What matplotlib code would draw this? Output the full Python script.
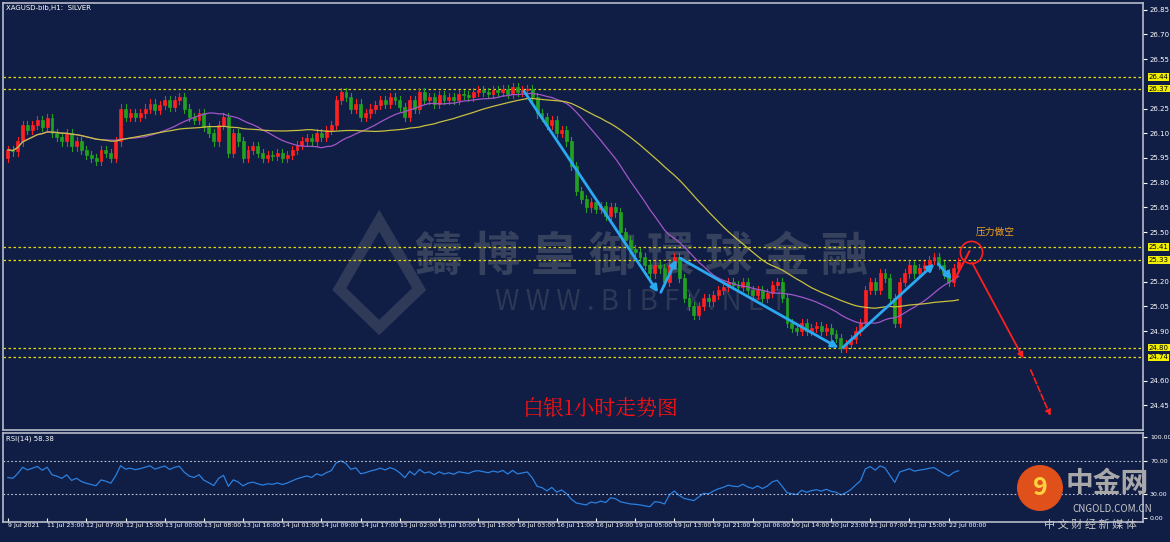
import matplotlib
matplotlib.use("Agg")
import matplotlib.pyplot as plt
import numpy as np
import pandas as pd
from matplotlib.patches import Rectangle, Ellipse, Polygon

plt.rcParams['font.family'] = ['Noto Sans CJK SC', 'DejaVu Sans']

closes = [26.00, 25.99, 26.05, 26.15, 26.12, 26.15, 26.18, 26.14, 26.19, 26.10, 26.08, 26.05, 26.10, 26.02,
          26.05, 26.00, 25.97, 25.95, 25.93, 26.00, 25.98, 25.95, 26.05, 26.25, 26.20, 26.22, 26.20,
          26.22, 26.25, 26.28, 26.24, 26.27, 26.30, 26.26, 26.30, 26.32, 26.25, 26.20, 26.18, 26.22, 26.14,
          26.10, 26.05, 26.15, 26.20, 25.98, 26.10, 26.05, 25.95, 26.00, 26.02,
          25.98, 25.95, 25.97, 25.96, 25.98, 25.95, 25.97, 26.00,
          26.03, 26.05, 26.07, 26.05, 26.10, 26.08, 26.12, 26.15, 26.30, 26.35, 26.32,
          26.25, 26.28, 26.20, 26.22, 26.25, 26.27, 26.30, 26.28, 26.32, 26.30, 26.26,
          26.20, 26.30, 26.25, 26.35, 26.30, 26.32, 26.28, 26.33,
          26.30, 26.32, 26.30, 26.34, 26.33, 26.32, 26.35, 26.36, 26.35, 26.34, 26.36, 26.35, 26.37, 26.34,
          26.38, 26.35, 26.36, 26.37, 26.32,
          26.22, 26.20, 26.15, 26.18, 26.10, 26.12, 26.05,
          25.90, 25.75, 25.70, 25.65,
          25.68, 25.64, 25.66, 25.60, 25.65, 25.62,
          25.50, 25.45, 25.40, 25.38, 25.35, 25.30,
          25.25, 25.30, 25.28, 25.20, 25.30, 25.35, 25.22, 25.10,
          25.05, 25.00, 25.05, 25.10, 25.08, 25.12, 25.15, 25.17,
          25.20, 25.18, 25.17, 25.20, 25.15, 25.12, 25.15, 25.10, 25.13, 25.18,
          25.20, 25.10, 24.95, 24.92, 24.90, 24.95,
          24.90, 24.92, 24.93, 24.90, 24.92, 24.88, 24.86, 24.80, 24.82,
          24.85, 24.90, 24.95, 25.15, 25.20, 25.15,
          25.25, 25.22, 25.10, 24.95, 25.20,
          25.25, 25.30, 25.25, 25.28, 25.30, 25.33, 25.35, 25.30, 25.25, 25.20, 25.28, 25.32]
first_open = 25.95
level_lines = [26.44, 26.37, 25.41, 25.33, 24.80, 24.74]
price_ticks = [26.85, 26.70, 26.55, 26.25, 26.10, 25.95, 25.80, 25.65, 25.50, 25.20, 25.05, 24.90, 24.60, 24.45]
date_labels = ['9 Jul 2021', '11 Jul 23:00', '12 Jul 07:00', '12 Jul 15:00', '13 Jul 00:00', '13 Jul 08:00',
               '13 Jul 16:00', '14 Jul 01:00', '14 Jul 09:00', '14 Jul 17:00', '15 Jul 02:00', '15 Jul 10:00',
               '15 Jul 18:00', '16 Jul 03:00', '16 Jul 11:00', '16 Jul 19:00', '19 Jul 05:00', '19 Jul 13:00',
               '19 Jul 21:00', '20 Jul 06:00', '20 Jul 14:00', '20 Jul 23:00', '21 Jul 07:00', '21 Jul 15:00',
               '22 Jul 00:00']

BG = '#101d45'
n = len(closes)
c = np.array(closes)
o = np.concatenate([[first_open], c[:-1]])
hi = np.maximum(o, c) + 0.025
lo = np.minimum(o, c) - 0.025
s = pd.Series(c)
ma_fast = s.rolling(20, min_periods=1).mean()
ma_slow = s.rolling(40, min_periods=1).mean()
d = s.diff().fillna(0)
g = pd.concat([pd.Series([0.02]), d.clip(lower=0)], ignore_index=True)
l = pd.concat([pd.Series([0.02]), (-d.clip(upper=0))], ignore_index=True)
up = g.ewm(alpha=1/14, adjust=False).mean()[1:].reset_index(drop=True)
dn = l.ewm(alpha=1/14, adjust=False).mean()[1:].reset_index(drop=True)
rsi = 100 - 100 / (1 + up / dn.replace(0, 1e-9))

fig = plt.figure(figsize=(11.7, 5.42), dpi=100, facecolor=BG)
ax = fig.add_axes([3/1170, 1-430/542, 1140/1170, 427/542], facecolor=BG)
ax2 = fig.add_axes([3/1170, 1-522/542, 1140/1170, 89/542], facecolor=BG, sharex=ax)

step = 4.9
xmax = 1140/step - 1
ax.set_xlim(-1, xmax)
ax.set_ylim(24.30, 26.89)

for i in range(n):
    col = '#ff2020' if c[i] >= o[i] else '#22a022'
    ax.plot([i, i], [lo[i], hi[i]], color=col, lw=0.8, zorder=3)
    ax.add_patch(Rectangle((i-0.3, min(o[i], c[i])), 0.6, max(abs(c[i]-o[i]), 0.004),
                           facecolor=col, edgecolor=col, lw=0.5, zorder=4))
ax.plot(range(n), ma_fast, color='#a257c8', lw=0.9, zorder=5)
ax.plot(range(n), ma_slow, color='#c8c040', lw=0.9, zorder=5)

for lv in level_lines:
    ax.axhline(lv, color='#e8e000', ls=(0, (2, 2)), lw=0.9, zorder=2)

ax.yaxis.tick_right()
ax.set_yticks(price_ticks)
ax.set_yticklabels([f'{t:.2f}' for t in price_ticks], fontsize=5, color='white', family='DejaVu Sans')
for lv in level_lines:
    ax.text(xmax + 1.2, lv, f'{lv:.2f}', fontsize=5, color='black', va='center', ha='left',
            bbox=dict(boxstyle='square,pad=0.1', fc='#f0f000', ec='none'), clip_on=False, family='DejaVu Sans')
ax.tick_params(axis='y', colors='white', length=3, pad=2)
ax.tick_params(axis='x', bottom=False, labelbottom=False)
for sp in ax.spines.values():
    sp.set_color('#b8bcc8')
    sp.set_linewidth(1.2)

ax.text(0.003, 0.995, 'XAGUSD-bib,H1:  SILVER', transform=ax.transAxes, fontsize=5, color='white',
        va='top', family='DejaVu Sans')

# watermark
ax.text(0.56, 0.405, '鑄 博 皇 御 環 球 金 融', transform=ax.transAxes, fontsize=34, color='#36415e',
        ha='center', va='center', fontweight='bold', zorder=1)
ax.text(0.56, 0.30, 'W W W . B I B F X . N E T', transform=ax.transAxes, fontsize=20, color='#2c3856',
        ha='center', va='center', zorder=1)
ax.add_patch(Polygon([(0.295, 0.33), (0.33, 0.49), (0.365, 0.33), (0.33, 0.24)], closed=True,
                     transform=ax.transAxes, fc='none', ec='#2e3a58', lw=8, zorder=1))

# zigzag arrows
zz = [(105, 26.37), (133, 25.12), (136.7, 25.35), (170, 24.79), (189.5, 25.32), (193, 25.20)]
for (x0, y0), (x1, y1) in zip(zz[:-1], zz[1:]):
    ax.annotate('', xy=(x1, y1), xytext=(x0, y0),
                arrowprops=dict(arrowstyle='-|>', color='#2aa8f0', lw=2, mutation_scale=10), zorder=6)
ax.annotate('', xy=(196.5, 25.40), xytext=(193, 25.20),
            arrowprops=dict(arrowstyle='-', color='#ff2020', lw=1.5), zorder=6)
ax.plot([196.5], [25.38], marker='o', ms=16, mfc='none', mec='#ff2020', mew=1.2, zorder=6)
ax.annotate('', xy=(207.5, 24.72), xytext=(196.5, 25.33),
            arrowprops=dict(arrowstyle='-|>', color='#ff2020', lw=1.3, mutation_scale=8), zorder=6)
ax.annotate('', xy=(213, 24.37), xytext=(208.5, 24.68),
            arrowprops=dict(arrowstyle='-|>', color='#ff2020', lw=1.2, ls='--', mutation_scale=8), zorder=6)
ax.text(197.5, 25.47, '压力做空', fontsize=7, color='#f0a020', ha='left', va='bottom')
ax.text(121, 24.36, '白银1小时走势图', fontsize=15, color='#ff1010', ha='center', va='bottom',
        family=['Noto Serif CJK SC', 'Noto Sans CJK SC'])

# RSI
ax2.plot(range(n), rsi, color='#2a80e0', lw=0.9)
ax2.set_ylim(-5, 105)
for lv in (70, 30):
    ax2.axhline(lv, color='#c0c4d0', ls=(0, (1.5, 2)), lw=0.8)
ax2.yaxis.tick_right()
ax2.set_yticks([100, 70, 30, 0])
ax2.set_yticklabels(['100.00', '70.00', '30.00', '0.00'], fontsize=4.5, color='white', family='DejaVu Sans')
ax2.tick_params(axis='y', colors='white', length=3, pad=2)
ax2.text(0.003, 0.97, f'RSI(14) {rsi.iloc[-1]:.2f}', transform=ax2.transAxes, fontsize=5, color='white',
         va='top', family='DejaVu Sans')
for sp in ax2.spines.values():
    sp.set_color('#b8bcc8')
    sp.set_linewidth(1.2)
xt = [8 * k for k in range(len(date_labels))]
ax2.set_xticks(xt)
ax2.set_xticklabels(date_labels, fontsize=4.5, color='white', ha='left', family='DejaVu Sans')
ax2.tick_params(axis='x', colors='white', length=3, pad=1, direction='in')

# logo
fig.patches.append(Ellipse((1040/1170, 1-488/542), 46/1170, 46/542, transform=fig.transFigure,
                           fc='#e0501a', zorder=5))
fig.text(1040/1170, 1-488/542, '9', fontsize=18, color='#ffd040', ha='center', va='center',
         fontweight='bold', zorder=6)
fig.text(1107/1170, 1-484/542, '中金网', fontsize=20, color='#a8a8a8', ha='center', va='center',
         fontweight='bold', zorder=6)
fig.text(1112/1170, 1-509/542, 'CNGOLD.COM.CN', fontsize=7, color='#c8c8c8', ha='center', va='center', zorder=6)
fig.text(1090/1170, 1-524/542, '中 文 财 经 新 媒 体', fontsize=8, color='#c8c8c8', ha='center', va='center', zorder=6)

fig.savefig('out.png', dpi=100, facecolor=fig.get_facecolor())
